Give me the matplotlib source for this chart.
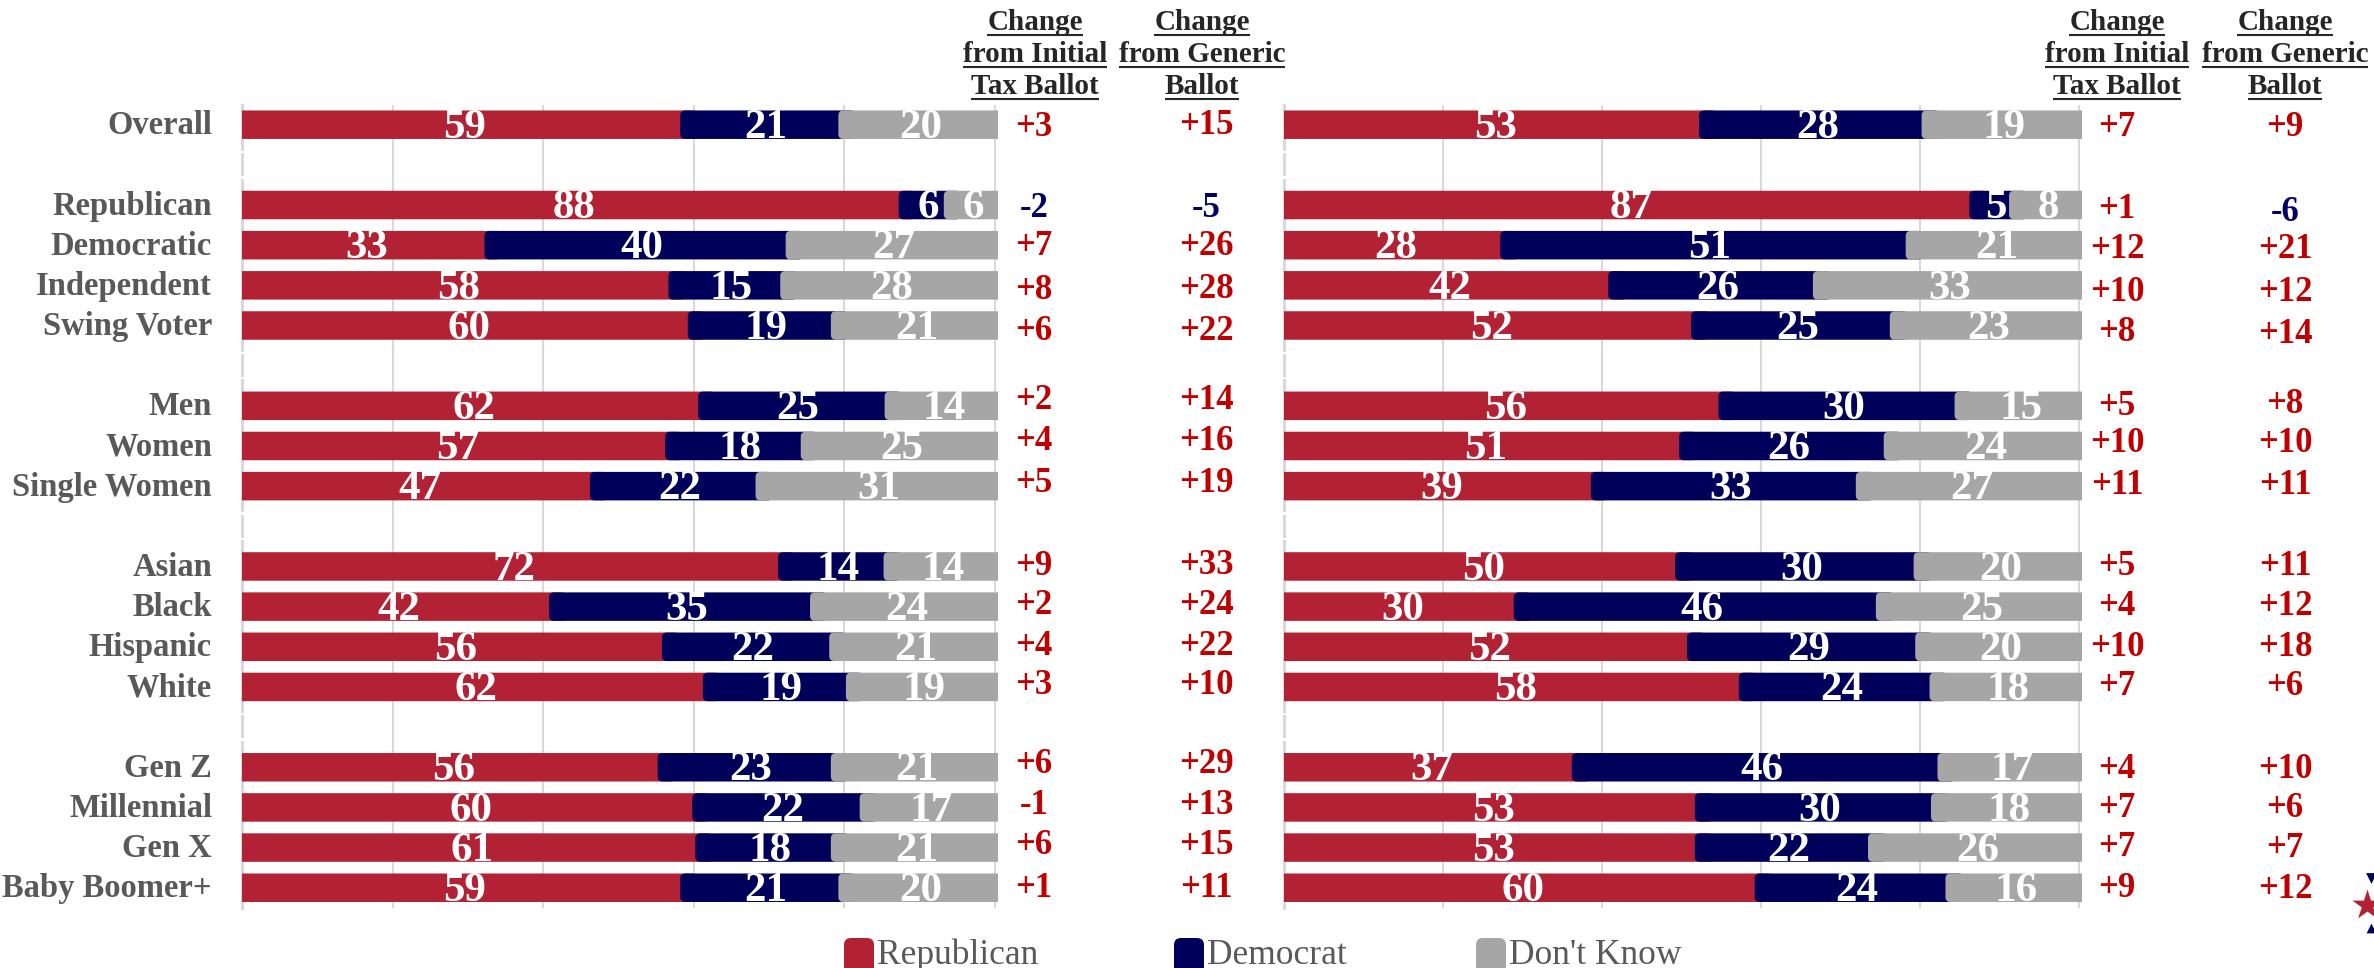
import matplotlib
matplotlib.use("Agg")
import matplotlib.pyplot as plt
from matplotlib.patches import FancyBboxPatch

plt.rcParams['font.family'] = ['Liberation Serif', 'DejaVu Serif']

categories = ["Overall", "Republican", "Democratic", "Independent", "Swing Voter",
              "Men", "Women", "Single Women", "Asian", "Black", "Hispanic", "White",
              "Gen Z", "Millennial", "Gen X", "Baby Boomer+"]
group_sizes = [1, 4, 3, 4, 4]

left_rep = [59, 88, 33, 58, 60, 62, 57, 47, 72, 42, 56, 62, 56, 60, 61, 59]
left_dem = [21, 6, 40, 15, 19, 25, 18, 22, 14, 35, 22, 19, 23, 22, 18, 21]
left_dk = [20, 6, 27, 28, 21, 14, 25, 31, 14, 24, 21, 19, 21, 17, 21, 20]
left_initial = [3, -2, 7, 8, 6, 2, 4, 5, 9, 2, 4, 3, 6, -1, 6, 1]
left_generic = [15, -5, 26, 28, 22, 14, 16, 19, 33, 24, 22, 10, 29, 13, 15, 11]

right_rep = [53, 87, 28, 42, 52, 56, 51, 39, 50, 30, 52, 58, 37, 53, 53, 60]
right_dem = [28, 5, 51, 26, 25, 30, 26, 33, 30, 46, 29, 24, 46, 30, 22, 24]
right_dk = [19, 8, 21, 33, 23, 15, 24, 27, 20, 25, 20, 18, 17, 18, 26, 16]
right_initial = [7, 1, 12, 10, 8, 5, 10, 11, 5, 4, 10, 7, 4, 7, 7, 9]
right_generic = [9, -6, 21, 12, 14, 8, 10, 11, 11, 12, 18, 6, 10, 6, 7, 12]

legend_names = ["Republican", "Democrat", "Don't Know"]
header_initial = ["Change", "from Initial", "Tax Ballot"]
header_generic = ["Change", "from Generic", "Ballot"]

RED = '#B22234'
NAVY = '#00005A'
GRAY = '#A6A6A6'
TEXT_GRAY = '#595959'
GRID = '#D9D9D9'
CHANGE_RED = '#C00000'
CHANGE_NAVY = '#000066'

W, H = 2374, 968
ROW0 = 124.7
ROW_STEP = 40.16
SEG_SHIFT = 0.8  # navy and gray pieces start a bit left of the plain share

# change labels sit a few pixels off their rows in the original
nudge_left_initial = [0, 0, -2, 2, 3, -8, -7, -6, -3, -4, -3, -4, -6, -5, -5, -2]
nudge_left_generic = [-2, 0, -2, 1, 3, -8, -7, -6, -4, -4, -3, -4, -6, -5, -5, -2]
nudge_right_initial = [0, 1, 1, 4, 4, -2, -5, -4, -3, -3, -2, -3, -1, -2, -3, -2]
nudge_right_generic = [0, 4, 1, 4, 6, -4, -5, -4, -3, -3, -2, -3, -1, -2, -2, -1]


def row_positions():
    rows = []
    pos = 0
    for size in group_sizes:
        rows.extend(range(pos, pos + size))
        pos += size + 1
    return rows


def draw_panel(fig, x0, x100, rep, dem, dk):
    # pixel box of the plot, the bars overshoot the 100 gridline by 2px
    left = x0 / W
    width = (x100 + 2.5 - x0) / W
    top = ROW0 - ROW_STEP / 2
    bottom = ROW0 + 19.5 * ROW_STEP
    ax = fig.add_axes([left, 1 - bottom / H, width, (bottom - top) / H])
    px_per_unit = (x100 - x0) / 100
    ax.set_xlim(0, 100 + 2.5 / px_per_unit)
    ax.set_ylim(19.5, -0.5)
    ax.set_xticks([0, 20, 40, 60, 80, 100])
    ax.set_yticks([])
    ax.tick_params(length=0, labelbottom=False)
    ax.grid(axis='x', color=GRID, linewidth=1.5, zorder=0)
    ax.set_axisbelow(True)
    for name, spine in ax.spines.items():
        spine.set_visible(name == 'left')
    ax.spines['left'].set_color(GRID)
    ax.spines['left'].set_linewidth(2.2)
    ax.spines['left'].set_zorder(1)

    rows = row_positions()
    totals = [a + b + c for a, b, c in zip(rep, dem, dk)]
    starts = [0.0] * len(rows)
    bar_h = 28.5 / ROW_STEP
    round_x = 5 / px_per_unit
    aspect = (5 / ROW_STEP) / round_x

    for vals, color, extend in ((rep, RED, True), (dem, NAVY, True), (dk, GRAY, False)):
        shares = [100 * v / t for v, t in zip(vals, totals)]
        bars = ax.barh(rows, shares, left=starts, height=bar_h, color=color)
        for bar, val in zip(bars, vals):
            bar.set_visible(False)
            x = bar.get_x()
            w = bar.get_width()
            # corners only show on the left, so run each piece under the next one
            x_draw = x - 2 if x == 0 else x - SEG_SHIFT
            w_draw = w + (x - x_draw) + (1.5 if extend else 3)
            box = FancyBboxPatch((x_draw, bar.get_y()), w_draw, bar.get_height(),
                                 boxstyle=f"round,pad=0,rounding_size={round_x}",
                                 mutation_aspect=aspect, facecolor=color,
                                 edgecolor='none', zorder=3 + (x > 0) + (color == GRAY))
            ax.add_patch(box)
            ax.text(x + w / 2 + 0.1, bar.get_y() + bar.get_height() / 2 + 0.08, str(val),
                    color='white', fontsize=31, fontweight='bold',
                    ha='center', va='center', zorder=8, clip_on=False)
        starts = [s + v for s, v in zip(starts, shares)]

    # small breaks in the axis line around the empty rows
    pos = 0
    for size in group_sizes[:-1]:
        pos += size
        for off in (-0.32, 0.31):
            ax.plot([0, 0], [pos + off - 0.03, pos + off + 0.03], color='white',
                    linewidth=3, clip_on=False, zorder=5, solid_capstyle='butt')
        pos += 1
    return ax


def draw_header(over, fig, x, lines):
    renderer = fig.canvas.get_renderer()
    for i, line in enumerate(lines):
        y = 23 + i * 32
        t = over.text(x, y, line, fontsize=21, fontweight='bold', color='#262626',
                      ha='center', va='center')
        box = t.get_window_extent(renderer)
        half = box.width / 2
        over.plot([x - half, x + half], [y + 11.5, y + 11.5], color='#262626',
                  linewidth=1.5, solid_capstyle='butt')


def draw_changes(over, x, values, nudges):
    rows = row_positions()
    for row, val, nudge in zip(rows, values, nudges):
        # only the bigger drops are navy, -1 stays red in the original
        color = CHANGE_RED if val > -2 else CHANGE_NAVY
        over.text(x, ROW0 + row * ROW_STEP + nudge + 3, f"{val:+d}", color=color,
                  fontsize=25, fontweight='bold', ha='center', va='center')


def main():
    fig = plt.figure(figsize=(W / 100, H / 100), dpi=100)
    draw_panel(fig, 242, 995, left_rep, left_dem, left_dk)
    draw_panel(fig, 1284, 2079, right_rep, right_dem, right_dk)

    # overlay in pixel coordinates for everything outside the plots
    over = fig.add_axes([0, 0, 1, 1], zorder=10)
    over.set_xlim(0, W)
    over.set_ylim(H, 0)
    over.axis('off')

    for row, name in zip(row_positions(), categories):
        over.text(212, ROW0 + row * ROW_STEP + 1, name, color=TEXT_GRAY, fontsize=23.5,
                  fontweight='bold', ha='right', va='center')

    draw_header(over, fig, 1035, header_initial)
    draw_header(over, fig, 1202, header_generic)
    draw_header(over, fig, 2117, header_initial)
    draw_header(over, fig, 2285, header_generic)

    draw_changes(over, 1034, left_initial, nudge_left_initial)
    draw_changes(over, 1206, left_generic, nudge_left_generic)
    draw_changes(over, 2117, right_initial, nudge_right_initial)
    draw_changes(over, 2285, right_generic, nudge_right_generic)

    for name, color, sx in zip(legend_names, (RED, NAVY, GRAY), (844, 1174, 1476)):
        over.add_patch(FancyBboxPatch((sx, 938), 30, 40,
                                      boxstyle="round,pad=0,rounding_size=7",
                                      facecolor=color, edgecolor='none'))
        over.text(sx + 33, 955, name, color=TEXT_GRAY, fontsize=25.5, ha='left', va='center')

    # bit of the logo that is cut off at the right edge
    over.scatter([2367], [905], marker='*', s=520, color=RED, linewidths=0)
    over.scatter([2371], [878], marker='v', s=60, color=NAVY, linewidths=0)
    over.scatter([2371], [928], marker='^', s=50, color=NAVY, linewidths=0)

    fig.savefig('out.png', dpi=100)


if __name__ == "__main__":
    main()
